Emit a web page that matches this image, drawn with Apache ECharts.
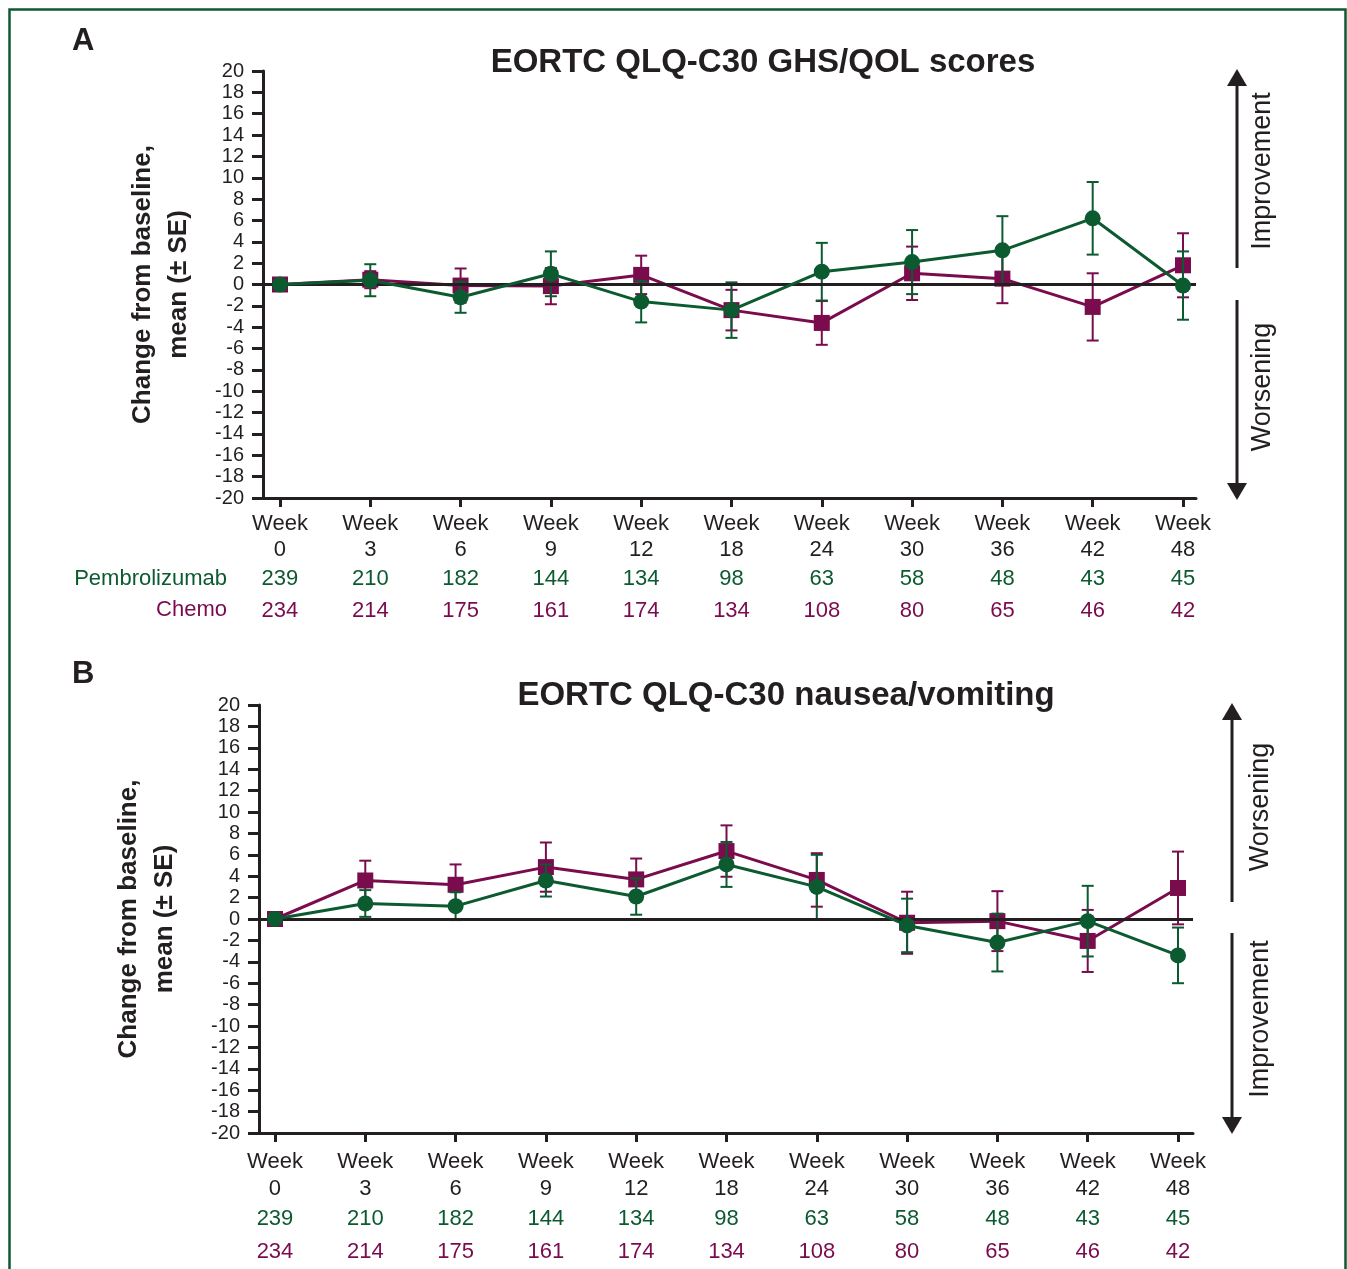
<!DOCTYPE html>
<html>
<head>
<meta charset="utf-8">
<script src="https://cdn.jsdelivr.net/npm/echarts@6/dist/echarts.min.js"></script>
<style>
  html, body { margin: 0; padding: 0; background: #fff; }
  #chart { width: 1347px; height: 1269px; }
</style>
</head>
<body>
<div id="chart"></div>
<script>
// visit weeks and patients contributing at each visit
const weeks = [0, 3, 6, 9, 12, 18, 24, 30, 36, 42, 48];
const pembroN = [239, 210, 182, 144, 134, 98, 63, 58, 48, 43, 45];
const chemoN = [234, 214, 175, 161, 174, 134, 108, 80, 65, 46, 42];

// A: GHS/QOL, change from baseline (mean, SE)
const qolPembroMean = [0, 0.4, -1.2, 1.0, -1.6, -2.4, 1.2, 2.1, 3.2, 6.2, -0.1];
const qolPembroSE   = [0, 1.5, 1.45, 2.1, 1.95, 2.6, 2.7, 3.0, 3.2, 3.4, 3.2];
const qolChemoMean  = [0, 0.45, -0.1, -0.15, 0.9, -2.4, -3.6, 1.05, 0.55, -2.1, 1.8];
const qolChemoSE    = [0, 0.8, 1.6, 1.7, 1.8, 1.9, 2.05, 2.5, 2.3, 3.15, 3.0];

// B: nausea/vomiting, change from baseline (mean, SE)
const nvPembroMean = [0, 1.45, 1.2, 3.6, 2.1, 5.1, 3.0, -0.6, -2.2, -0.2, -3.4];
const nvPembroSE   = [0, 1.25, 1.3, 1.5, 1.7, 2.1, 3.0, 2.5, 2.7, 3.3, 2.6];
const nvChemoMean  = [0, 3.6, 3.2, 4.85, 3.7, 6.35, 3.65, -0.35, -0.2, -2.05, 2.9];
const nvChemoSE    = [0, 1.85, 1.9, 2.3, 1.95, 2.4, 2.5, 2.9, 2.8, 2.9, 3.4];

const GREEN = '#0c5a30';
const PURPLE = '#7a0c4e';
const INK = '#231f20';
const FONT = '"Liberation Sans", Arial, sans-serif';

const chart = echarts.init(document.getElementById('chart'));

function points(mean) {
  return mean.map((v, i) => [i, v]);
}

function errors(mean, se) {
  return mean.map((v, i) => [i, v - se[i], v + se[i]]);
}

function errorBar(color) {
  return function (params, api) {
    const x = api.value(0);
    const lo = api.coord([x, api.value(1)]);
    const hi = api.coord([x, api.value(2)]);
    if (Math.abs(lo[1] - hi[1]) < 1) return null;
    const w = 6;
    const style = { stroke: color, lineWidth: 2 };
    return {
      type: 'group',
      children: [
        { type: 'line', shape: { x1: hi[0], y1: hi[1], x2: lo[0], y2: lo[1] }, style },
        { type: 'line', shape: { x1: hi[0] - w, y1: hi[1], x2: hi[0] + w, y2: hi[1] }, style },
        { type: 'line', shape: { x1: lo[0] - w, y1: lo[1], x2: lo[0] + w, y2: lo[1] }, style }
      ]
    };
  };
}

function xAxis(gridIndex, min, max, lh) {
  return {
    type: 'value',
    gridIndex,
    min,
    max,
    splitLine: { show: false },
    axisLine: { show: true, onZero: false, lineStyle: { color: INK, width: 3 } },
    axisTick: {
      show: true,
      customValues: weeks.map((w, i) => i),
      length: 9,
      lineStyle: { color: INK, width: 3 }
    },
    axisLabel: {
      customValues: weeks.map((w, i) => i),
      margin: lh.margin,
      fontFamily: FONT,
      fontSize: 22,
      color: INK,
      lineHeight: lh.base,
      formatter: v => 'Week\n' + weeks[v] + '\n{g|' + pembroN[v] + '}\n{p|' + chemoN[v] + '}',
      rich: {
        g: { color: GREEN, fontFamily: FONT, fontSize: 22, lineHeight: lh.g },
        p: { color: PURPLE, fontFamily: FONT, fontSize: 22, lineHeight: lh.p }
      }
    }
  };
}

function yAxis(gridIndex, nameGap) {
  return {
    type: 'value',
    gridIndex,
    min: -20,
    max: 20,
    interval: 2,
    splitLine: { show: false },
    axisLine: { show: true, onZero: false, lineStyle: { color: INK, width: 3 } },
    axisTick: { show: true, length: 11, lineStyle: { color: INK, width: 3 } },
    axisLabel: { fontFamily: FONT, fontSize: 20, color: INK, margin: 19 },
    name: 'Change from baseline,\nmean (± SE)',
    nameLocation: 'middle',
    nameGap,
    nameTextStyle: { fontFamily: FONT, fontSize: 26, fontWeight: 'bold', color: INK, lineHeight: 36 }
  };
}

function panelSeries(idx, pMean, pSE, cMean, cSE) {
  return [
    {
      name: 'Chemo SE',
      type: 'custom',
      xAxisIndex: idx,
      yAxisIndex: idx,
      renderItem: errorBar(PURPLE),
      encode: { x: 0, y: [1, 2] },
      data: errors(cMean, cSE),
      markLine: {
        silent: true,
        symbol: 'none',
        label: { show: false },
        lineStyle: { color: INK, width: 3, type: 'solid' },
        data: [{ yAxis: 0 }]
      },
      z: 2
    },
    {
      name: 'Chemo',
      type: 'line',
      xAxisIndex: idx,
      yAxisIndex: idx,
      data: points(cMean),
      symbol: 'rect',
      symbolSize: 16,
      lineStyle: { color: PURPLE, width: 3 },
      itemStyle: { color: PURPLE },
      z: 3
    },
    {
      name: 'Pembrolizumab SE',
      type: 'custom',
      xAxisIndex: idx,
      yAxisIndex: idx,
      renderItem: errorBar(GREEN),
      encode: { x: 0, y: [1, 2] },
      data: errors(pMean, pSE),
      z: 4
    },
    {
      name: 'Pembrolizumab',
      type: 'line',
      xAxisIndex: idx,
      yAxisIndex: idx,
      data: points(pMean),
      symbol: 'circle',
      symbolSize: 16,
      lineStyle: { color: GREEN, width: 3 },
      itemStyle: { color: GREEN },
      z: 5
    }
  ];
}

function arrow(x, yFrom, yTo) {
  const dir = yTo < yFrom ? -1 : 1;
  return {
    type: 'group',
    children: [
      { type: 'line', shape: { x1: x, y1: yFrom, x2: x, y2: yTo - dir * 14 }, style: { stroke: INK, lineWidth: 3 } },
      { type: 'polygon', shape: { points: [[x, yTo], [x - 10, yTo - dir * 17], [x + 10, yTo - dir * 17]] }, style: { fill: INK } }
    ]
  };
}

function sideText(x, y, text) {
  return {
    type: 'text',
    x, y,
    rotation: Math.PI / 2,
    style: { text, fontFamily: FONT, fontSize: 27, fill: INK, align: 'center', verticalAlign: 'middle' }
  };
}

const option = {
  animation: false,
  backgroundColor: '#fff',
  title: [
    {
      text: 'EORTC QLQ-C30 GHS/QOL scores',
      left: 758, top: 41, textAlign: 'center',
      textStyle: { fontFamily: FONT, fontSize: 33, fontWeight: 'bold', color: INK }
    },
    {
      text: 'EORTC QLQ-C30 nausea/vomiting',
      left: 781, top: 674, textAlign: 'center',
      textStyle: { fontFamily: FONT, fontSize: 33, fontWeight: 'bold', color: INK }
    }
  ],
  grid: [
    { left: 263, top: 71, width: 933, height: 427 },
    { left: 259, top: 705, width: 934, height: 428 }
  ],
  xAxis: [
    xAxis(0, -0.188, 10.144, { margin: 13, base: 26, g: 31, p: 33 }),
    xAxis(1, -0.177, 10.166, { margin: 15, base: 27, g: 33, p: 34 })
  ],
  yAxis: [yAxis(0, 66), yAxis(1, 76)],
  series: [
    ...panelSeries(0, qolPembroMean, qolPembroSE, qolChemoMean, qolChemoSE),
    ...panelSeries(1, nvPembroMean, nvPembroSE, nvChemoMean, nvChemoSE)
  ],
  graphic: [
    { type: 'rect', shape: { x: 9.5, y: 9.5, width: 1336, height: 1290 }, style: { fill: 'none', stroke: GREEN, lineWidth: 2.5 }, z: -1 },
    { type: 'text', x: 72, y: 41, style: { text: 'A', fontFamily: FONT, fontSize: 31, fontWeight: 'bold', fill: INK, verticalAlign: 'middle' } },
    { type: 'text', x: 72, y: 674, style: { text: 'B', fontFamily: FONT, fontSize: 31, fontWeight: 'bold', fill: INK, verticalAlign: 'middle' } },
    { type: 'text', x: 227, y: 579, style: { text: 'Pembrolizumab', fontFamily: FONT, fontSize: 22, fill: GREEN, align: 'right', verticalAlign: 'middle' } },
    { type: 'text', x: 227, y: 610, style: { text: 'Chemo', fontFamily: FONT, fontSize: 22, fill: PURPLE, align: 'right', verticalAlign: 'middle' } },
    arrow(1237, 268, 69),
    arrow(1237, 300, 500),
    sideText(1263, 171, 'Improvement'),
    sideText(1263, 387, 'Worsening'),
    arrow(1232, 902, 703),
    arrow(1232, 933, 1134),
    sideText(1261, 807, 'Worsening'),
    sideText(1261, 1019, 'Improvement')
  ]
};

chart.setOption(option);
</script>
</body>
</html>
